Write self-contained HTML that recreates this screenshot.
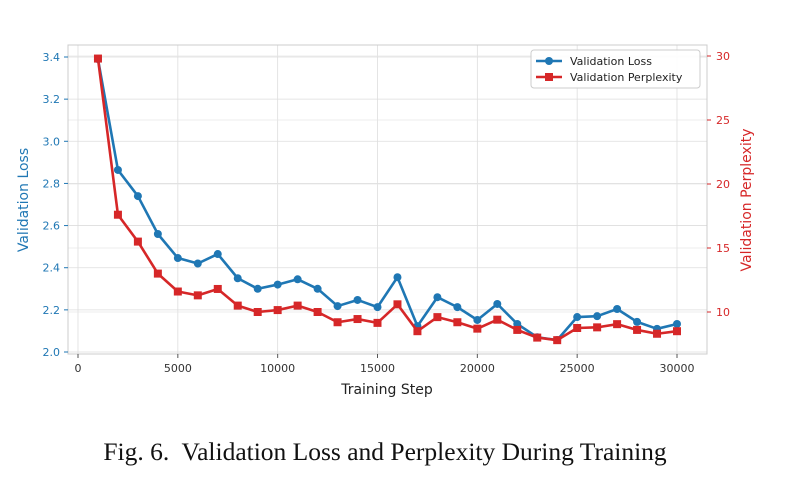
<!DOCTYPE html>
<html><head><meta charset="utf-8"><style>
body{margin:0;background:#fff;width:798px;height:478px;overflow:hidden}
svg text{font-family:"DejaVu Sans","Liberation Sans",sans-serif}
</style></head><body>
<svg id="chart" width="798" height="478" xmlns="http://www.w3.org/2000/svg"></svg>
<script>
const steps=[1000,2000,3000,4000,5000,6000,7000,8000,9000,10000,11000,12000,13000,14000,15000,16000,17000,18000,19000,20000,21000,22000,23000,24000,25000,26000,27000,28000,29000,30000];
const lossValues=[3.39,2.864,2.74,2.56,2.446,2.42,2.465,2.35,2.30,2.32,2.345,2.30,2.218,2.247,2.213,2.355,2.123,2.26,2.213,2.152,2.228,2.133,2.07,2.057,2.166,2.17,2.204,2.143,2.11,2.133];
const pplValues=[29.8,17.6,15.5,13.0,11.6,11.3,11.8,10.5,10.0,10.15,10.5,10.0,9.2,9.45,9.15,10.6,8.5,9.6,9.2,8.7,9.4,8.6,8.0,7.8,8.75,8.8,9.05,8.6,8.3,8.5];
const xTicks=[0,5000,10000,15000,20000,25000,30000];
const lossTicks=[2.0,2.2,2.4,2.6,2.8,3.0,3.2,3.4];
const pplTicks=[10,15,20,25,30];
const NS="http://www.w3.org/2000/svg";
const svg=document.getElementById('chart');
const L=68,R=707,T=45,B=354;
const xs=v=>78+(v/30000)*599;
const yl=v=>352-(v-2.0)/1.4*295;
const yr=v=>56+(30-v)*12.8;
function mk(tag,attrs,parent){const e=document.createElementNS(NS,tag);for(const k in attrs)e.setAttribute(k,attrs[k]);(parent||svg).appendChild(e);return e;}
xTicks.forEach(t=>{const g=mk('line',{x1:xs(t),x2:xs(t),y1:T,y2:B,stroke:'#dddddd','stroke-width':0.8});

});
lossTicks.forEach(t=>{const g=mk('line',{x1:L,x2:R,y1:yl(t),y2:yl(t),stroke:'#dddddd','stroke-width':0.8});

});
pplTicks.forEach(t=>{const g=mk('line',{x1:L,x2:R,y1:yr(t),y2:yr(t),stroke:'#e6e6e6','stroke-width':0.8});

});
const fr=mk('rect',{x:L,y:T,width:R-L,height:B-T,fill:'none',stroke:'#cccccc','stroke-width':1});


xTicks.forEach(t=>{mk('line',{x1:xs(t),x2:xs(t),y1:B,y2:B+4,stroke:'#555'});
const tx=mk('text',{x:xs(t),y:B+18,'text-anchor':'middle','font-size':11,fill:'#333'});tx.textContent=t;

});
lossTicks.forEach(t=>{mk('line',{x1:L-4,x2:L,y1:yl(t),y2:yl(t),stroke:'#1f77b4'});
const tx=mk('text',{x:L-8,y:yl(t)+4,'text-anchor':'end','font-size':11,fill:'#1f77b4'});tx.textContent=t.toFixed(1);

});
pplTicks.forEach(t=>{mk('line',{x1:R,x2:R+4,y1:yr(t),y2:yr(t),stroke:'#d62728'});
const tx=mk('text',{x:R+9,y:yr(t)+4,'font-size':11,fill:'#d62728'});tx.textContent=t;

});
let t1=mk('text',{x:387,y:394,'text-anchor':'middle','font-size':14,fill:'#222'});t1.textContent='Training Step';


let t2=mk('text',{x:28,y:200,'text-anchor':'middle','font-size':14,fill:'#1f77b4',transform:'rotate(-90 28 200)'});t2.textContent='Validation Loss';


let t3=mk('text',{x:751,y:200,'text-anchor':'middle','font-size':14,fill:'#d62728',transform:'rotate(-90 751 200)'});t3.textContent='Validation Perplexity';


function series(vals,yf,color,shape,name){
 const p=mk('polyline',{points:steps.map((s,i)=>xs(s)+','+yf(vals[i])).join(' '),fill:'none',stroke:color,'stroke-width':2.6,'stroke-linejoin':'round'});
 
 
 steps.forEach((s,i)=>{let m;
  if(shape==='c')m=mk('circle',{cx:xs(s),cy:yf(vals[i]),r:4,fill:color});
  else m=mk('rect',{x:xs(s)-4,y:yf(vals[i])-4,width:8,height:8,fill:color});
  
  });
}
series(lossValues,yl,'#1f77b4','c','loss');
series(pplValues,yr,'#d62728','s','perplexity');
const lg=mk('g',{});


mk('rect',{x:531,y:50,width:169,height:38,rx:3,fill:'#fff',stroke:'#ccc','fill-opacity':0.9},lg);
mk('line',{x1:536,x2:562,y1:61,y2:61,stroke:'#1f77b4','stroke-width':2.6},lg);
mk('circle',{cx:549,cy:61,r:4,fill:'#1f77b4'},lg);
let a=mk('text',{x:570,y:65,'font-size':11,fill:'#222'},lg);a.textContent='Validation Loss';


mk('line',{x1:536,x2:562,y1:77,y2:77,stroke:'#d62728','stroke-width':2.6},lg);
mk('rect',{x:545,y:73,width:8,height:8,fill:'#d62728'},lg);
let b=mk('text',{x:570,y:81,'font-size':11,fill:'#222'},lg);b.textContent='Validation Perplexity';


let c=mk('text',{x:385,y:460,'text-anchor':'middle','font-size':25.5,fill:'#111'});
c.setAttribute('style','font-family:"Liberation Serif",serif;white-space:pre');
c.textContent='Fig. 6.  Validation Loss and Perplexity During Training';


</script>
</body></html>
